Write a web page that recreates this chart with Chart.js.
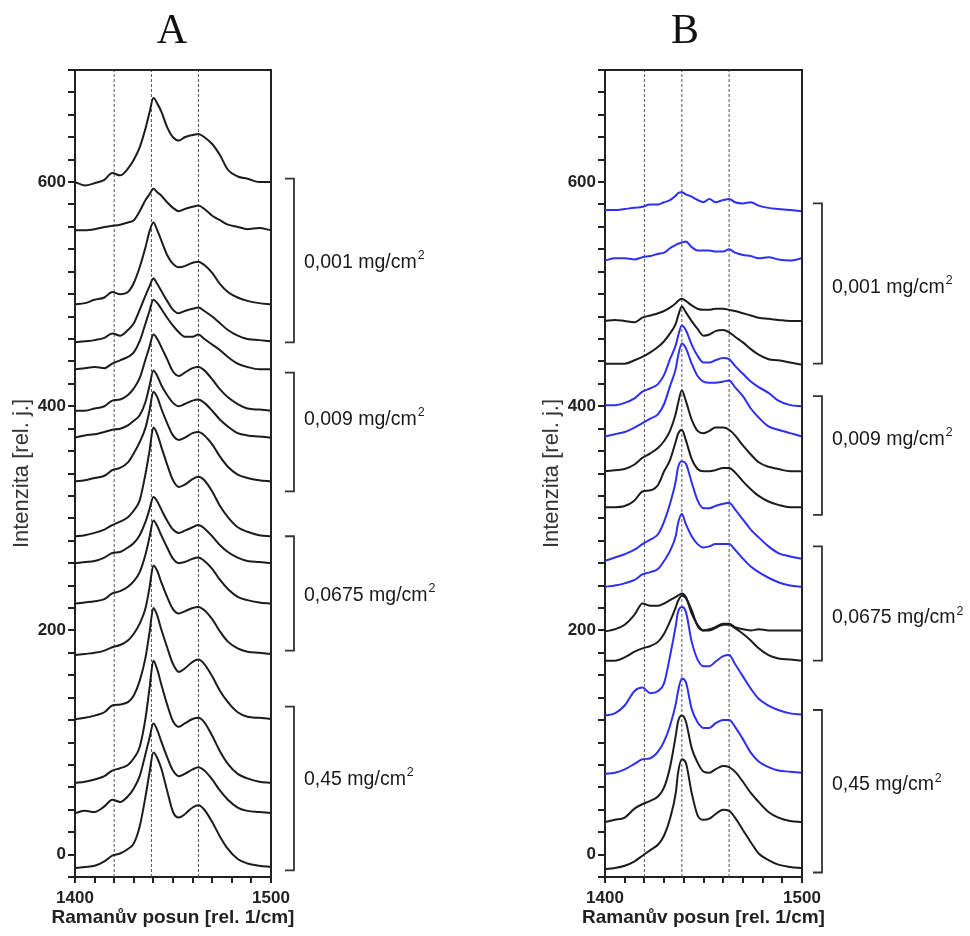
<!DOCTYPE html>
<html>
<head>
<meta charset="utf-8">
<script src="https://cdn.jsdelivr.net/npm/chart.js@4.4.0/dist/chart.umd.min.js"></script>
<style>
  html, body { margin: 0; padding: 0; background: #fff; }
  #wrap { position: relative; width: 970px; height: 936px; }
  canvas { position: absolute; top: 0; }
  #panelA { left: 0; }
  #panelB { left: 485px; }
</style>
</head>
<body>
<div id="wrap">
  <canvas id="panelA" width="485" height="936"></canvas>
  <canvas id="panelB" width="485" height="936"></canvas>
</div>
<script>
// Raman shift grids (rel. 1/cm)
const ramanShiftA = [1400,1405,1410,1415,1419,1423,1427,1430,1433,1436,1438,1440,1442,1444,1447,1450,1453,1456,1460,1463,1466,1470,1474,1478,1483,1488,1494,1500];
const ramanShiftB = [1400,1405,1410,1415,1419,1423,1427,1430,1433,1436,1437,1439,1441,1444,1447,1450,1453,1456,1460,1463,1466,1470,1474,1478,1483,1488,1494,1500];

// vertical reference bands
const markerBands = [1420, 1439, 1463];

// axis ranges
const yMin = -20, yMax = 700;

// group labels (concentration)
const concentrations = ['0,001', '0,009', '0,0675', '0,45'];

// panel A spectra (stacked, top to bottom)
const spectraA = [
  [600,597,599,602,608,606,612,620,631,648,662,675,670,663,649,640,637,640,642,643,640,634,624,611,605,603,600,600],
  [557,557,558,560,561,562,564,566,574,584,589,594,591,588,582,577,574,576,578,579,576,570,566,562,560,558,559,557],
  [491,492,495,497,502,500,502,510,524,542,556,564,557,548,535,527,524,525,528,529,526,519,509,502,497,494,492,491],
  [457,458,459,461,465,463,468,474,486,499,507,514,509,503,494,486,483,485,487,488,485,480,474,468,463,460,459,458],
  [433,434,435,434,438,441,444,448,458,474,485,495,492,487,479,472,466,462,462,464,460,455,450,444,438,435,433,433],
  [396,396,398,400,405,406,410,416,425,442,453,464,460,453,442,431,427,430,434,435,432,424,415,408,402,398,397,396],
  [372,374,375,377,379,380,383,387,392,404,418,432,427,419,410,403,400,402,405,406,403,396,388,382,376,374,373,372],
  [333,334,336,338,343,345,350,358,368,381,396,413,408,398,385,374,370,372,376,377,374,366,355,346,339,336,334,333],
  [284,285,287,290,294,297,301,307,316,340,360,381,375,364,348,334,328,330,335,337,334,324,311,301,292,288,285,284],
  [260,261,262,265,269,270,274,278,285,297,308,319,315,308,298,290,287,289,292,294,291,284,276,270,265,262,261,260],
  [224,225,226,228,233,235,239,244,252,268,283,298,293,285,274,264,260,261,264,265,262,255,245,237,230,227,225,224],
  [178,179,180,182,185,187,191,197,206,220,238,258,253,243,230,219,215,217,220,221,218,210,199,190,184,181,180,179],
  [121,122,124,127,133,134,136,142,155,176,198,220,213,201,185,170,163,166,172,174,170,159,146,136,127,123,122,121],
  [64,65,67,70,75,77,80,86,96,122,148,173,165,152,134,119,114,117,121,122,118,106,92,81,72,68,65,64],
  [37,39,38,43,49,47,52,59,70,90,104,117,111,101,87,75,70,72,76,78,75,67,57,49,42,39,38,37],
  [-12,-11,-10,-6,-1,1,5,10,25,52,73,91,86,77,57,38,33,36,42,44,40,29,16,5,-4,-8,-10,-11]
];

// panel B spectra (stacked, top to bottom)
const spectraB = [
  [575,575,576,577,578,580,580,582,584,588,590,591,589,587,584,582,585,582,584,585,582,581,582,579,577,576,575,574],
  [530,532,532,531,533,534,536,537,541,544,545,546,547,542,539,539,539,538,538,540,537,535,534,532,533,531,530,532],
  [476,477,476,475,479,481,483,485,488,492,494,496,494,490,487,486,486,487,487,486,485,483,481,479,478,477,476,476],
  [438,438,438,441,444,448,453,458,465,474,480,489,484,476,469,463,464,467,468,466,462,457,451,446,442,441,439,437],
  [401,401,403,407,413,416,420,428,442,455,462,472,468,455,445,439,439,441,443,442,436,429,422,417,412,405,401,400],
  [373,375,377,381,385,389,393,402,418,434,444,456,452,438,427,422,421,421,422,423,417,409,398,390,382,379,376,373],
  [342,343,344,348,354,358,363,369,378,394,402,414,405,388,378,376,378,381,381,379,374,365,357,350,346,344,342,342],
  [310,310,311,316,324,325,330,342,352,369,375,379,370,353,344,342,342,343,345,345,341,333,326,320,315,312,310,310],
  [262,265,268,272,277,281,286,297,313,334,345,351,349,332,316,309,309,311,313,314,308,299,290,283,275,269,266,264],
  [239,240,242,245,250,252,255,262,271,285,295,304,295,284,277,274,275,277,277,277,272,264,257,252,247,243,240,239],
  [199,201,205,214,224,222,222,224,227,230,231,233,230,215,205,200,201,203,206,206,203,201,200,201,200,200,200,200],
  [173,173,176,181,184,186,190,197,208,221,226,231,229,218,204,200,200,202,205,205,202,197,191,184,178,175,174,173],
  [124,126,133,146,149,144,146,153,177,205,216,221,217,190,174,168,168,172,177,178,170,159,148,139,133,129,126,125],
  [72,73,76,81,85,86,92,101,115,135,145,157,154,130,118,113,113,117,120,120,114,103,91,83,78,75,74,73],
  [29,31,33,41,45,48,52,60,78,107,118,124,119,95,82,74,73,76,79,78,74,65,55,47,38,33,30,29],
  [-13,-12,-10,-6,-1,4,9,17,32,56,72,85,82,55,35,31,32,36,40,39,33,22,11,1,-5,-9,-11,-12]
];

// concentration groups: [top, bottom, label] in intensity units
const groupsA = [[603, 457, 528], [430, 324, 388], [284, 182, 231], [132, -14, 67]];
const groupsB = [[581, 438, 506], [409, 303, 370], [275, 173, 211], [129, -16, 62]];

const BLACK = '#1c1c1c';
const BLUE = '#2f2ff2';
const colorsA = spectraA.map(() => BLACK);
const colorsB = [BLUE, BLUE, BLACK, BLACK, BLUE, BLUE, BLACK, BLACK, BLUE, BLUE, BLACK, BLACK, BLUE, BLUE, BLACK, BLACK];

const FONT = "Arial, 'Liberation Sans', Helvetica, sans-serif";
Chart.defaults.font.family = FONT;

const xTitle = 'Ramanův posun [rel. 1/cm]';

const panelDecor = {
  id: 'panelDecor',
  afterDraw(chart, args, opts) {
    const {ctx, chartArea: area} = chart;
    const y = chart.scales.y;
    ctx.save();
    // top and right frame
    ctx.strokeStyle = '#222';
    ctx.lineWidth = 2;
    ctx.beginPath();
    ctx.moveTo(area.left, area.top);
    ctx.lineTo(area.right, area.top);
    ctx.lineTo(area.right, area.bottom);
    ctx.stroke();

    // panel letter
    ctx.fillStyle = '#111';
    ctx.font = "42px 'Liberation Serif', 'Times New Roman', serif";
    ctx.textAlign = 'center';
    ctx.textBaseline = 'alphabetic';
    ctx.fillText(opts.letter, opts.letterX, 43);

    // x axis title (drawn here so it may run wider than the plot)
    ctx.fillStyle = '#222';
    ctx.font = 'bold 19px ' + FONT;
    ctx.textBaseline = 'middle';
    ctx.fillText(xTitle, (area.left + area.right) / 2, 918);

    // concentration brackets
    const bx = area.right + opts.bracketGap;
    ctx.strokeStyle = '#333';
    ctx.lineWidth = 1.8;
    opts.groups.forEach((g, i) => {
      const top = y.getPixelForValue(g[0]);
      const bot = y.getPixelForValue(g[1]);
      const mid = y.getPixelForValue(g[2]);
      ctx.beginPath();
      ctx.moveTo(bx - 9, top);
      ctx.lineTo(bx, top);
      ctx.lineTo(bx, bot);
      ctx.lineTo(bx - 9, bot);
      ctx.stroke();

      const text = concentrations[i] + ' mg/cm';
      const lx = bx + 10;
      ctx.fillStyle = '#1a1a1a';
      ctx.textAlign = 'left';
      ctx.textBaseline = 'middle';
      ctx.font = '19.5px ' + FONT;
      ctx.fillText(text, lx, mid);
      const w = ctx.measureText(text).width;
      ctx.font = '12.5px ' + FONT;
      ctx.fillText('2', lx + w + 1, mid - 7);
    });
    ctx.restore();
  }
};

function spectrumDatasets(xs, spectra, colors) {
  return spectra.map((ys, i) => ({
    data: xs.map((x, j) => ({x: x, y: ys[j]})),
    borderColor: colors[i],
    borderWidth: 2,
    pointRadius: 0,
    cubicInterpolationMode: 'monotone',
    fill: false,
    order: 1
  }));
}

function bandDatasets() {
  return markerBands.map(b => ({
    data: [{x: b, y: yMin}, {x: b, y: yMax}],
    borderColor: '#555',
    borderWidth: 1,
    borderDash: [3, 2],
    pointRadius: 0,
    fill: false,
    order: 2
  }));
}

function makePanel(id, xs, spectra, colors, padLeft, padRight, decor) {
  return new Chart(document.getElementById(id), {
    type: 'line',
    data: { datasets: [...spectrumDatasets(xs, spectra, colors), ...bandDatasets()] },
    options: {
      responsive: false,
      animation: false,
      devicePixelRatio: 1,
      layout: { padding: { left: padLeft, right: padRight, top: 70, bottom: 0 } },
      plugins: {
        legend: { display: false },
        tooltip: { enabled: false },
        panelDecor: decor
      },
      scales: {
        x: {
          type: 'linear',
          min: 1400,
          max: 1500,
          afterFit: s => { s.height = 59; },
          ticks: {
            stepSize: 10,
            autoSkip: false,
            maxRotation: 0,
            padding: 5,
            color: '#222',
            font: { size: 17, weight: 'bold' },
            callback: v => (v === 1400 || v === 1500) ? String(v) : ''
          },
          grid: { drawOnChartArea: false, drawTicks: true, tickLength: 6, color: '#222', lineWidth: 2 },
          border: { display: true, color: '#222', width: 2 },
          title: { display: false }
        },
        y: {
          min: yMin,
          max: yMax,
          afterFit: s => { s.width = 75; },
          ticks: {
            stepSize: 20,
            autoSkip: false,
            padding: 2,
            color: '#222',
            font: { size: 17, weight: 'bold' },
            callback: v => (v % 200 === 0) ? String(v) : ''
          },
          grid: { drawOnChartArea: false, drawTicks: true, tickLength: 7, color: '#222', lineWidth: 2 },
          border: { display: true, color: '#222', width: 2 },
          title: {
            display: true,
            text: 'Intenzita [rel. j.]',
            color: '#333',
            font: { size: 22 },
            padding: { top: 9, bottom: 0 }
          }
        }
      }
    },
    plugins: [panelDecor]
  });
}

makePanel('panelA', ramanShiftA, spectraA, colorsA, 0, 214,
  { letter: 'A', letterX: 172, bracketGap: 23, groups: groupsA });
makePanel('panelB', ramanShiftB, spectraB, colorsB, 45, 168,
  { letter: 'B', letterX: 200, bracketGap: 20, groups: groupsB });
</script>
</body>
</html>
